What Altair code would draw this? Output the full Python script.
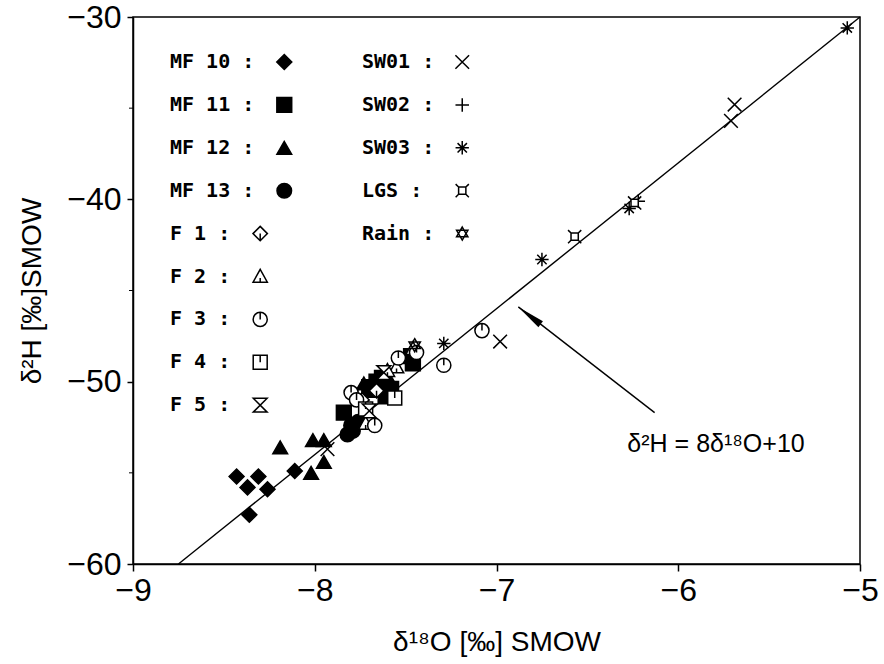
import altair as alt
import pandas as pd

# ---- isotope pairs (per mil vs SMOW) for each sampling point ----
mf10_d18o = [-8.43, -8.37, -8.31, -8.26, -8.36, -8.11]
mf10_d2h = [-55.2, -55.8, -55.2, -55.9, -57.3, -54.9]
mf11_d18o = [-7.84, -7.66, -7.63, -7.58, -7.61, -7.47, -7.46, -7.70]
mf11_d2h = [-51.7, -50.0, -49.8, -50.4, -50.8, -48.6, -49.0, -50.3]
mf12_d18o = [-8.19, -8.01, -7.95, -7.95, -8.02, -7.73, -7.60, -7.69]
mf12_d2h = [-53.6, -53.2, -53.2, -54.4, -55.0, -50.1, -49.7, -50.5]
mf13_d18o = [-7.82, -7.79, -7.80, -7.76]
mf13_d2h = [-52.9, -52.7, -52.4, -52.2]
f1_d18o = [-7.74, -7.66]
f1_d2h = [-51.0, -50.5]
f2_d18o = [-7.46, -7.55, -7.60, -7.72]
f2_d2h = [-48.2, -49.2, -49.4, -52.3]
f3_d18o = [-7.29, -7.08, -7.54, -7.80, -7.77, -7.67, -7.44]
f3_d2h = [-49.1, -47.2, -48.7, -50.6, -51.0, -52.4, -48.4]
f4_d18o = [-7.56, -7.72]
f4_d2h = [-50.9, -51.5]
f5_d18o = [-7.70, -7.62]
f5_d2h = [-51.6, -49.5]
sw01_d18o = [-6.98, -5.69, -5.71, -7.93]
sw01_d2h = [-47.8, -34.8, -35.7, -53.7]
sw02_d18o = [-6.22]
sw02_d2h = [-40.1]
sw03_d18o = [-7.29, -6.75, -6.27, -5.07]
sw03_d2h = [-47.9, -43.3, -40.5, -30.6]
lgs_d18o = [-6.57, -6.24]
lgs_d2h = [-42.05, -40.2]
rain_d18o = [-7.45]
rain_d2h = [-48.0]

# global meteoric water line: d2H = 8 * d18O + 10
gmwl_slope = 8
gmwl_intercept = 10
gmwl_d18o = [-8.75, -5.0]

# annotation: label position and arrow (tail -> tip)
eq_label = "δ²H = 8δ¹⁸O+10"
eq_pos = [-6.28, -53.4]
arrow_tail = [-6.13, -51.7]
arrow_tip = [-6.88, -45.9]

# axis ticks
x_ticks = [-9, -8, -7, -6, -5]
y_ticks = [-60, -50, -40, -30]
y_minor = [-55, -45, -35]

# ---- symbol definitions ----
CIRCLE = "M1,0A1,1 0 1,1 -1,0A1,1 0 1,1 1,0Z"
series = [
    ("MF 10", mf10_d18o, mf10_d2h, "diamond", "black", 225),
    ("MF 11", mf11_d18o, mf11_d2h, "square", "black", 170),
    ("MF 12", mf12_d18o, mf12_d2h, "triangle-up", "black", 210),
    ("MF 13", mf13_d18o, mf13_d2h, "circle", "black", 200),
    ("F 1", f1_d18o, f1_d2h, "M0,-1L1,0L0,1L-1,0Z M0,0L0,1", "white", 190),
    ("F 2", f2_d18o, f2_d2h, "M0,-1L1,0.8L-1,0.8Z M0,0.2L0,0.8", "white", 190),
    ("F 3", f3_d18o, f3_d2h, CIRCLE + " M0,-1L0,0", "white", 289),
    ("F 4", f4_d18o, f4_d2h, "M-1,-1H1V1H-1Z M0,-1V0", "white", 170),
    ("F 5", f5_d18o, f5_d2h, "M-1,-1H1L-1,1H1Z", "white", 170),
    ("SW01", sw01_d18o, sw01_d2h, "M-1,-1L1,1M-1,1L1,-1", "white", 289),
    ("SW02", sw02_d18o, sw02_d2h, "M-1,0L1,0M0,-1L0,1", "white", 289),
    ("SW03", sw03_d18o, sw03_d2h,
     "M-1,0L1,0M0,-1L0,1M-0.7,-0.7L0.7,0.7M-0.7,0.7L0.7,-0.7", "white", 289),
    ("LGS", lgs_d18o, lgs_d2h,
     "M-0.55,-0.55H0.55V0.55H-0.55Z M-1,-1L-0.55,-0.55 M1,-1L0.55,-0.55 "
     "M-1,1L-0.55,0.55 M1,1L0.55,0.55", "white", 225),
    ("Rain", rain_d18o, rain_d2h,
     "M0,-1L0.87,0.5H-0.87Z M0,1L0.87,-0.5H-0.87Z", "white", 190),
]

names = [s[0] for s in series]
shape_scale = alt.Scale(domain=names, range=[s[3] for s in series])
fill_scale = alt.Scale(domain=names, range=[s[4] for s in series])
size_scale = alt.Scale(domain=names, range=[s[5] for s in series])

rows = []
for order, (name, xs, ys, *_rest) in enumerate(series):
    for xv, yv in zip(xs, ys):
        rows.append({"group": name, "d18o": xv, "d2h": yv, "order": order})
points_df = pd.DataFrame(rows)

line_df = pd.DataFrame({
    "d18o": gmwl_d18o,
    "d2h": [gmwl_slope * v + gmwl_intercept for v in gmwl_d18o],
})

FONT = "Liberation Sans"
xscale = alt.Scale(domain=[-9, -5], nice=False, zero=False)
yscale = alt.Scale(domain=[-60, -30], nice=False, zero=False)

x_axis = alt.Axis(values=x_ticks, format="d", title="δ¹⁸O [‰] SMOW",
                  labelFlush=False, labelOverlap=False, tickSize=7,
                  labelPadding=4, titlePadding=22)
y_axis = alt.Axis(values=y_ticks, format="d", title="δ²H [‰]SMOW",
                  labelFlush=False, labelOverlap=False, tickSize=6,
                  labelPadding=6, titlePadding=20)

base = alt.Chart(line_df)

gmwl = base.mark_line(color="black", strokeWidth=1.4).encode(
    x=alt.X("d18o:Q", scale=xscale, axis=x_axis),
    y=alt.Y("d2h:Q", scale=yscale, axis=y_axis),
)

minor_ticks = alt.Chart(pd.DataFrame({"v": y_minor})).mark_rule(
    color="black", strokeWidth=1
).encode(
    y=alt.Y("v:Q", scale=yscale),
    x=alt.value(-4),
    x2=alt.value(0),
)

pts = alt.Chart(points_df).mark_point(
    strokeWidth=1.5, opacity=1, fillOpacity=1, stroke="black"
).encode(
    x=alt.X("d18o:Q", scale=xscale),
    y=alt.Y("d2h:Q", scale=yscale),
    shape=alt.Shape("group:N", scale=shape_scale, legend=None),
    fill=alt.Fill("group:N", scale=fill_scale, legend=None),
    size=alt.Size("group:N", scale=size_scale, legend=None),
    order=alt.Order("order:Q"),
)

arrow_df = pd.DataFrame({
    "x": [arrow_tail[0]], "y": [arrow_tail[1]],
    "x2": [arrow_tip[0]], "y2": [arrow_tip[1]],
})
shaft = alt.Chart(arrow_df).mark_rule(color="black", strokeWidth=1.4).encode(
    x=alt.X("x:Q", scale=xscale), y=alt.Y("y:Q", scale=yscale),
    x2="x2:Q", y2="y2:Q",
)
head = alt.Chart(arrow_df).mark_point(
    shape="M0,0L0.26,2L-0.26,2Z", size=800, angle=307.8,
    filled=True, color="black", opacity=1,
).encode(
    x=alt.X("x2:Q", scale=xscale), y=alt.Y("y2:Q", scale=yscale),
)

eq_text = alt.Chart(pd.DataFrame({"x": [eq_pos[0]], "y": [eq_pos[1]],
                                  "t": [eq_label]})).mark_text(
    align="left", baseline="middle", font=FONT, fontSize=25, color="black"
).encode(
    x=alt.X("x:Q", scale=xscale), y=alt.Y("y:Q", scale=yscale), text="t:N",
)

data_layer = alt.layer(gmwl, minor_ticks, shaft, head, pts, eq_text)

# ---- key drawn inside the plot: two columns, label followed by symbol ----
left_col = names[:9]
right_col = names[9:]
CHAR_W = 12.04   # advance of the monospaced key font at 20px
key_rows = []
for i, name in enumerate(left_col):
    label = name + " :"
    key_rows.append({"group": name, "label": label, "tx": 37,
                     "mx": 37 + CHAR_W * len(label) + 30, "ky": 45 + 42.9 * i})
right_w = max(len(n + " :") for n in right_col)
for i, name in enumerate(right_col):
    key_rows.append({"group": name, "label": name + " :", "tx": 229,
                     "mx": 229 + CHAR_W * right_w + 28, "ky": 45 + 42.9 * i})
key_df = pd.DataFrame(key_rows)

kx = alt.Scale(domain=[0, 727], range=[0, 727])
ky = alt.Scale(domain=[0, 547], range=[0, 547])

key_text = alt.Chart(key_df).mark_text(
    align="left", baseline="middle", font="DejaVu Sans Mono",
    fontSize=20, fontWeight="bold", color="black"
).encode(
    x=alt.X("tx:Q", scale=kx, axis=None),
    y=alt.Y("ky:Q", scale=ky, axis=None),
    text="label:N",
)
key_sym = alt.Chart(key_df).mark_point(
    strokeWidth=1.5, opacity=1, fillOpacity=1, stroke="black"
).encode(
    x=alt.X("mx:Q", scale=kx, axis=None),
    y=alt.Y("ky:Q", scale=ky, axis=None),
    shape=alt.Shape("group:N", scale=shape_scale, legend=None),
    fill=alt.Fill("group:N", scale=fill_scale, legend=None),
    size=alt.Size("group:N", scale=size_scale, legend=None),
)
key_layer = alt.layer(key_text, key_sym)

chart = alt.layer(data_layer, key_layer).resolve_scale(
    x="independent", y="independent"
).properties(
    width=727, height=547,
    padding={"left": 133, "top": 17, "right": 24, "bottom": 100},
    autosize=alt.AutoSizeParams(type="none"),
    background="white",
).configure_view(
    stroke="black", strokeWidth=1.5
).configure_axis(
    grid=False, domainColor="black", domainWidth=1.5, tickColor="black",
    tickWidth=1.5, labelColor="black", titleColor="black",
    labelFont=FONT, titleFont=FONT, labelFontSize=32, titleFontSize=28,
    titleFontWeight="normal",
)

chart.save("out.html", embed_options={"renderer": "svg", "actions": False})
